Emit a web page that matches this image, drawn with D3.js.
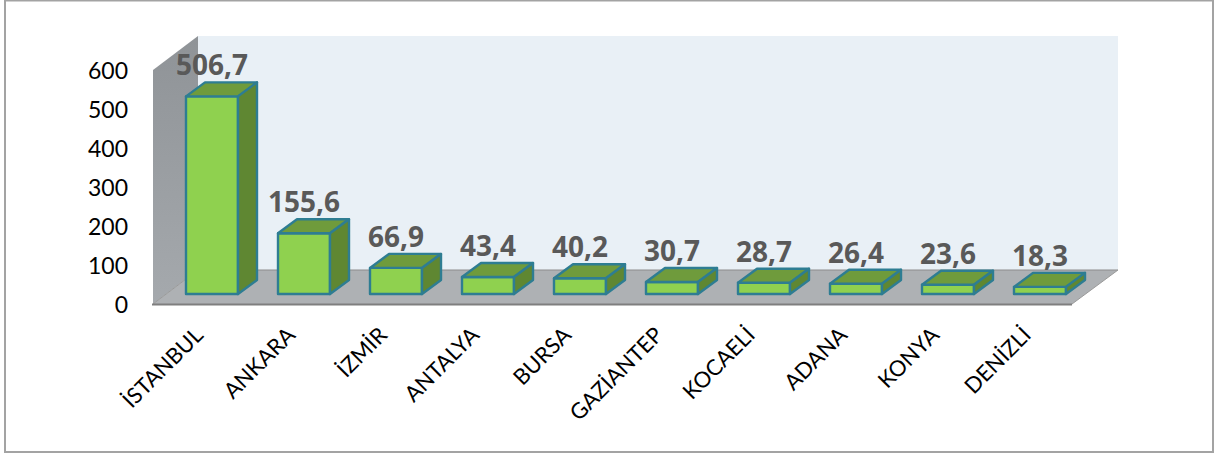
<!DOCTYPE html>
<html><head><meta charset="utf-8">
<script src="https://cdn.jsdelivr.net/npm/d3@7/dist/d3.min.js"></script>
<style>html,body{margin:0;padding:0;background:#fff}svg{display:block}text{font-family:Lato,Carlito,"Open Sans",sans-serif}</style>
</head><body><div id="c"></div>
<script>
const categories=["İSTANBUL","ANKARA","İZMİR","ANTALYA","BURSA","GAZİANTEP","KOCAELİ","ADANA","KONYA","DENİZLİ"];
const values=[506.7,155.6,66.9,43.4,40.2,30.7,28.7,26.4,23.6,18.3];
const valueLabels=["506,7","155,6","66,9","43,4","40,2","30,7","28,7","26,4","23,6","18,3"];
const yTicks=[0,100,200,300,400,500,600];

const W=1215,H=453;
const svg=d3.select("#c").append("svg").attr("width",W).attr("height",H);
svg.append("rect").attr("x",5).attr("y",0.5).attr("width",1208).attr("height",451.5).attr("fill","#fff").attr("stroke","#a3a3a3").attr("stroke-width",2);

const y=d3.scaleLinear().domain([0,600]).range([304,70]);
const x=d3.scaleBand().domain(categories).range([166,1086]).paddingInner(40/92).paddingOuter(20/92);
const wallDx=45,wallDy=34,left=153,right=1072;
const barDx=19,barDy=14,barBase=10;
const poly=(pts)=>pts.map(p=>p.join(",")).join(" ");

const defs=svg.append("defs");
const g1=defs.append("linearGradient").attr("id","wallG").attr("x1",0).attr("x2",0).attr("y1",0).attr("y2",1);
g1.append("stop").attr("offset",0).attr("stop-color","#8f9397");
g1.append("stop").attr("offset",1).attr("stop-color","#a5a9ad");

// back wall
svg.append("polygon").attr("points",poly([[left+wallDx,y(600)-wallDy],[right+wallDx+1,y(600)-wallDy],[right+wallDx+1,y(0)-wallDy],[left+wallDx,y(0)-wallDy]])).attr("fill","#e9f0f6");
// left wall
svg.append("polygon").attr("points",poly([[left,y(600)],[left+wallDx,y(600)-wallDy],[left+wallDx,y(0)-wallDy],[left,y(0)]])).attr("fill","url(#wallG)");
// floor
svg.append("polygon").attr("points",poly([[left,y(0)],[left+wallDx,y(0)-wallDy],[right+wallDx+1,y(0)-wallDy],[right,y(0)]])).attr("fill","#aeb1b4");
svg.append("line").attr("x1",left+wallDx).attr("x2",right+wallDx+1).attr("y1",y(0)-wallDy).attr("y2",y(0)-wallDy).attr("stroke","#8c8c8c").attr("stroke-width",1);
svg.append("line").attr("x1",left).attr("x2",left+wallDx).attr("y1",y(0)).attr("y2",y(0)-wallDy).attr("stroke","#9a9a9a").attr("stroke-width",1);
svg.append("line").attr("x1",right).attr("x2",right+wallDx+1).attr("y1",y(0)).attr("y2",y(0)-wallDy).attr("stroke","#9a9a9a").attr("stroke-width",1);
svg.append("line").attr("x1",left-1).attr("x2",right).attr("y1",y(0)+.5).attr("y2",y(0)+.5).attr("stroke","#7f7f7f").attr("stroke-width",2);

// bars
const rows=categories.map((c,i)=>({c,v:values[i],l:valueLabels[i]}));
const bars=svg.selectAll("g.bar").data(rows).join("g").attr("class","bar");
const sty=s=>s.attr("stroke","#2e7d92").attr("stroke-width",2.4).attr("stroke-linejoin","round");
const bw=x.bandwidth();
bars.append("polygon").attr("points",d=>{const a=x(d.c),t=y(d.v)-barBase,b=y(0)-barBase;return poly([[a,t],[a+bw,t],[a+bw,b],[a,b]]);}).attr("fill","#8fd14f").call(sty);
bars.append("polygon").attr("points",d=>{const a=x(d.c),t=y(d.v)-barBase;return poly([[a,t],[a+barDx,t-barDy],[a+bw+barDx,t-barDy],[a+bw,t]]);}).attr("fill","#6f9b3c").call(sty);
bars.append("polygon").attr("points",d=>{const a=x(d.c)+bw,t=y(d.v)-barBase,b=y(0)-barBase;return poly([[a,t],[a+barDx,t-barDy],[a+barDx,b-barDy],[a,b]]);}).attr("fill","#5f8732").call(sty);

// value labels
bars.append("text").text(d=>d.l).attr("x",d=>x(d.c)+bw/2).attr("y",d=>y(d.v)-barBase-barDy-7).attr("text-anchor","middle").attr("font-weight",700).attr("font-size",28).style("font-family","'Open Sans',sans-serif").attr("fill","#595959");

// y tick labels
svg.selectAll("text.yt").data(yTicks).join("text").attr("class","yt").text(d=>d).attr("x",128).attr("y",d=>y(d)+9).attr("text-anchor","end").attr("font-size",23).attr("fill","#000");

// category labels
svg.selectAll("text.xt").data(categories).join("text").attr("class","xt").text(d=>d)
 .attr("transform",d=>`translate(${x(d)+bw/2-13},331) rotate(-45)`)
 .attr("text-anchor","end").attr("dy","0.35em").attr("font-size",22).attr("fill","#000");
</script></body></html>
